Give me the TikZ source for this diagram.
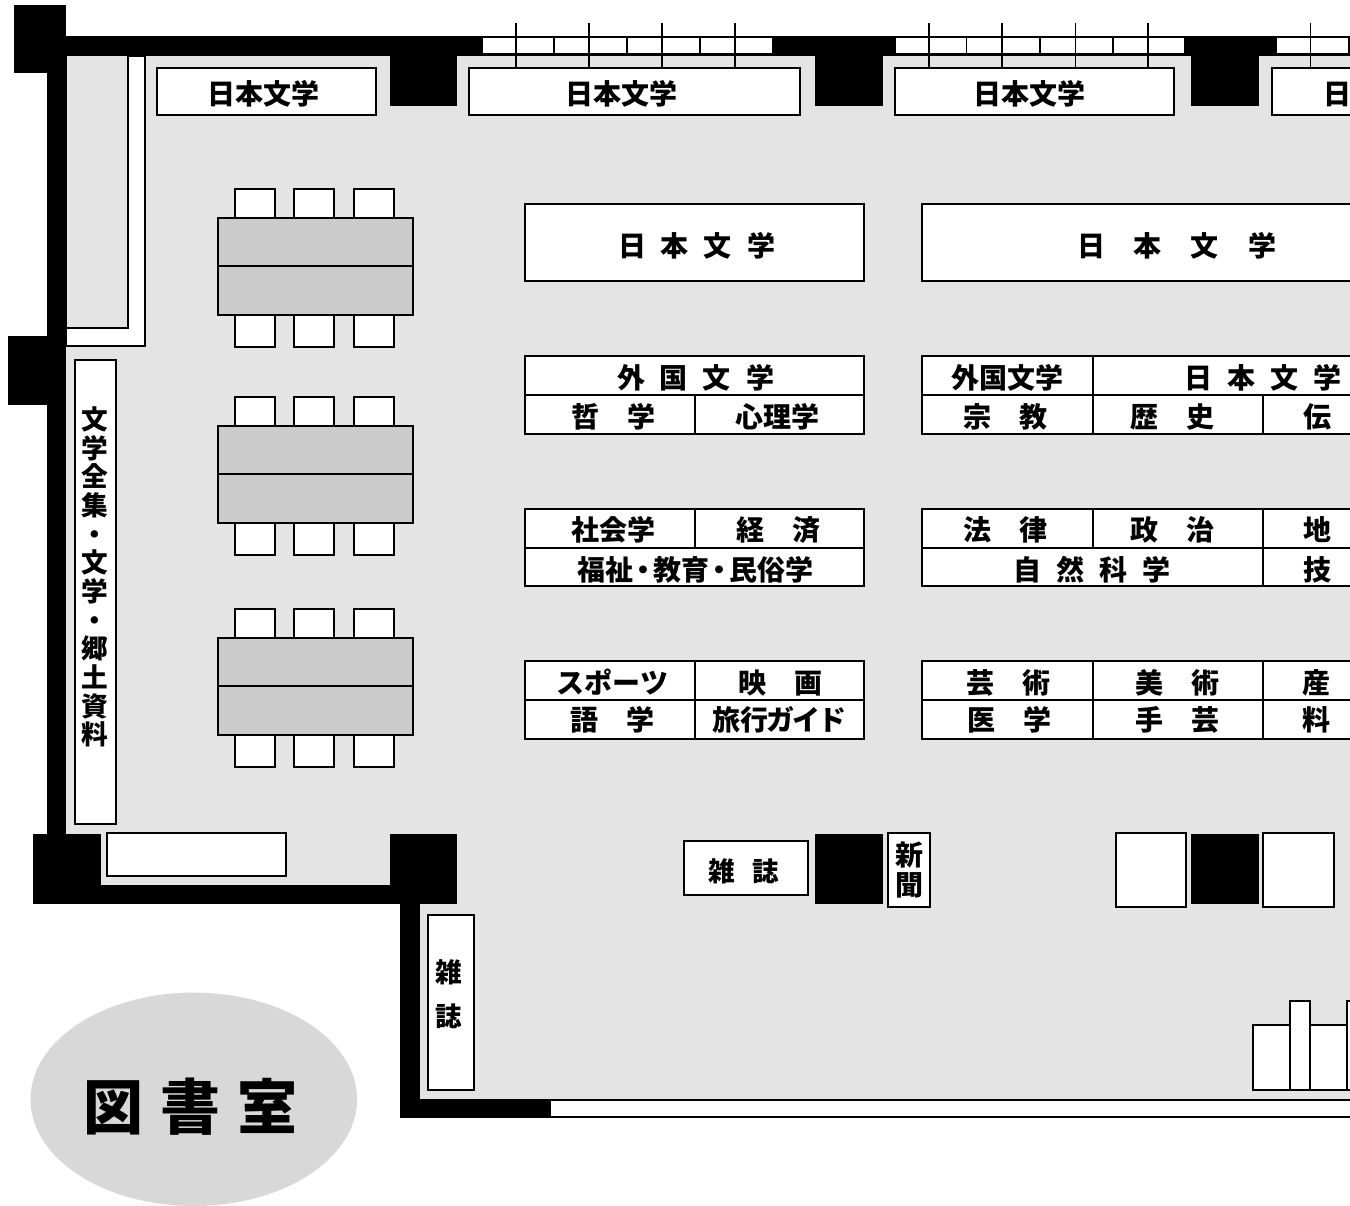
\documentclass[tikz,border=0pt]{standalone}
\usepackage{fontspec}
\setmainfont{Noto Sans CJK JP}
\newfontfamily\heavyjp{Noto Sans CJK JP Black}
\newdimen\pxu \pxu=0.75pt
\newcommand\gp[1]{\hskip #1\pxu\relax}
\definecolor{floorgray}{HTML}{E4E4E4}
\definecolor{tablegray}{HTML}{CBCBCB}
\definecolor{ovalgray}{HTML}{D8D8D8}
\tikzset{
  wall/.style={fill=black,draw=none},
  boxline/.style={draw=black,line width=2\pxu},
  plain/.style={boxline,fill=white},
  tabletop/.style={boxline,fill=tablegray},
  tick/.style={draw=black,line width=1.8\pxu},
  shelfbox/.style={boxline,fill=white,inner sep=0pt,outer sep=0pt},
  lbl/.style={inner sep=0pt,outer sep=0pt,text height=16pt,text depth=0pt,font=\bfseries\fontsize{21}{23}\selectfont},
  stack/.style={inner sep=0pt,outer sep=0pt,align=center},
}
\newcommand\cellbox[5]{%
  \pgfmathsetmacro\cw{(#4-#2)*0.75}%
  \pgfmathsetmacro\ch{(#5-#3)*0.75}%
  \pgfmathsetmacro\cx{(#2+#4)/2}%
  \pgfmathsetmacro\cy{(#3+#5)/2}%
  \node[shelfbox,minimum width=\cw pt,minimum height=\ch pt] (#1) at (\cx,\cy) {};}
% name, x1, y1, x2, y2, text x, text y, text
\newcommand\tcell[8]{\cellbox{#1}{#2}{#3}{#4}{#5}\node[lbl] (#1t) at (#6,#7) {#8};}
\newcommand\windowrow[4]{%
  \path[plain] (#1,37) rectangle (#2,54.5);
  \foreach \d in {#3} \draw[tick] (\d,37) -- (\d,54.5);
  \foreach \t in {#4} \draw[tick] (\t,23) -- (\t,68);}
\newcommand\tablegroup[1]{%
  \begin{scope}[yshift=#1*(-0.75pt)]
    \foreach \x in {234.5,294,354}{
      \path[plain] (\x,188.5) rectangle ++(40,29);
      \path[plain] (\x,315) rectangle ++(40,31.5);
    }
    \path[tabletop] (217.5,217.5) rectangle (413,266);
    \path[tabletop] (217.5,266) rectangle (413,315);
  \end{scope}}
\begin{document}
\begin{tikzpicture}[x=0.75pt,y=-0.75pt]
\useasboundingbox (0,0) rectangle (1350,1206);
\clip (0,0) rectangle (1350,1206);
% floor
\fill[floorgray] (66,56) -- (1350,56) -- (1350,1100) -- (419,1100) -- (419,885) -- (66,885) -- cycle;
% L-shaped white bay
\path[plain] (66,56) -- (145,56) -- (145,346) -- (66,346) -- cycle;
\path[boxline,fill=floorgray] (66,55) -- (128,55) -- (128,328) -- (66,328) -- cycle;
% windows
\fill[black] (66,36) rectangle (1350,56);
\windowrow{482}{773}{554,627,700}{516,589,662,735}
\windowrow{894.5}{1185}{966.5,1040,1113}{929,1002,1075.5,1148}
\windowrow{1276}{1370}{1349}{1310.5}
% walls and pillars
\fill[wall] (14,5) rectangle (66,73);
\fill[wall] (47,73) rectangle (66,834);
\fill[wall] (8,336) rectangle (66,405);
\fill[wall] (389.5,36) rectangle (457,106);
\fill[wall] (815,36) rectangle (883,106);
\fill[wall] (1191,36) rectangle (1258.5,106);
\fill[wall] (33,834) rectangle (100.5,904);
\fill[wall] (100,885) rectangle (457,904);
\fill[wall] (389.5,834) rectangle (457,904);
\fill[wall] (400,904) rectangle (419.5,1118);
\fill[wall] (400,1098.5) rectangle (550,1118);
\path[plain] (550,1099.5) rectangle (1370,1117);
\fill[wall] (815,834) rectangle (883,904);
\fill[wall] (1191,834) rectangle (1258.5,904);
% wall shelves
\tcell{wa}{157}{68}{375.5}{115.5}{263}{94}{日本文学}
\tcell{wb}{469}{68}{800}{115.5}{621.5}{94}{日本文学}
\tcell{wc}{895}{68}{1174}{115.5}{1029.5}{94}{日本文学}
\tcell{wd}{1272}{68}{1396}{115.5}{1337}{94}{日}
% tables
\tablegroup{0}
\tablegroup{208}
\tablegroup{420}
% long shelves
\tcell{la}{525}{204}{864}{281}{696.5}{246}{日\gp{15}本\gp{15}文\gp{15}学}
\tcell{lb}{922}{204}{1400}{281}{1176.5}{246}{日\gp{29}本\gp{29}文\gp{29}学}
% block 1, left
\tcell{a1}{525}{356}{864}{395}{695.5}{378}{外\gp{15}国\gp{15}文\gp{15}学}
\tcell{a2}{525}{395}{694.5}{433.5}{613.6}{416.7}{哲\gp{28}学}
\tcell{a3}{694.5}{395}{864}{433.5}{777}{416.7}{心理学}
% block 2, left
\tcell{b1}{525}{509}{694.5}{548}{613.7}{530}{社会学}
\tcell{b2}{694.5}{509}{864}{548}{778}{530}{経\gp{28}済}
\tcell{b3}{525}{548}{864}{586}{695}{570}{福祉\gp{-4}・\gp{-4}教育\gp{-4}・\gp{-4}民俗学}
% block 3, left
\tcell{c1}{525}{661}{694.5}{700}{612.5}{683}{スポーツ}
\tcell{c2}{694.5}{661}{864}{700}{780.5}{683}{映\gp{28}画}
\tcell{c3}{525}{700}{694.5}{739}{612.3}{720}{語\gp{28}学}
\tcell{c4}{694.5}{700}{864}{739}{779}{720}{旅行\gp{-2}ガ\gp{-2}イ\gp{-2}ド}
% block 1, right
\tcell{d1}{922}{356}{1092.5}{395}{1007.5}{378}{外国文学}
\tcell{d2}{1092.5}{356}{1432}{395}{1263}{378}{日\gp{15}本\gp{15}文\gp{15}学}
\tcell{d3}{922}{395}{1092.5}{433.5}{1005.8}{416.7}{宗\gp{28}教}
\tcell{d4}{1092.5}{395}{1262.5}{433.5}{1172.5}{416.7}{歴\gp{28}史}
\tcell{d5}{1262.5}{395}{1372}{433.5}{1317}{416.7}{伝}
% block 2, right
\tcell{e1}{922}{509}{1092.5}{548}{1005.8}{530}{法\gp{28}律}
\tcell{e2}{1092.5}{509}{1262.5}{548}{1172}{530}{政\gp{28}治}
\tcell{e3}{1262.5}{509}{1372}{548}{1317}{530}{地}
\tcell{e4}{922}{548}{1262.5}{586}{1092}{570}{自\gp{15}然\gp{15}科\gp{15}学}
\tcell{e5}{1262.5}{548}{1372}{586}{1317}{570}{技}
% block 3, right
\tcell{f1}{922}{661}{1092.5}{700}{1008}{683}{芸\gp{28}術}
\tcell{f2}{1092.5}{661}{1262.5}{700}{1177.5}{683}{美\gp{28}術}
\tcell{f3}{1262.5}{661}{1372}{700}{1316}{683}{産}
\tcell{f4}{922}{700}{1092.5}{739}{1009}{720}{医\gp{28}学}
\tcell{f5}{1092.5}{700}{1262.5}{739}{1177.5}{720}{手\gp{28}芸}
\tcell{f6}{1262.5}{700}{1372}{739}{1316}{720}{料}
% left tall shelf
\cellbox{g1}{74.5}{360}{116}{824}
\node[stack,font=\bfseries\fontsize{20}{21.5}\selectfont] (g1t) at (95,577) {文\\学\\全\\集\\・\\文\\学\\・\\郷\\土\\資\\料};
% lower left
\cellbox{h1}{107}{832.5}{285.5}{875.5}
\cellbox{h2}{428}{915}{474}{1090}
\node[stack,font=\bfseries\fontsize{20}{33}\selectfont] (h2t) at (449,994) {雑\\誌};
% magazines, newspaper
\cellbox{i1}{684}{841}{808}{895}
\node[stack,font=\bfseries\fontsize{20}{22}\selectfont] (i1t) at (744,871) {雑\gp{17}誌};
\cellbox{i2}{888}{833}{930}{907}
\node[stack,font=\bfseries\fontsize{21}{22.5}\selectfont] (i2t) at (909,870) {新\\聞};
\cellbox{i3}{1115.5}{832.5}{1186}{907}
\cellbox{i4}{1263}{832.5}{1333.5}{907}
% lower right shelves
\cellbox{j1}{1252.5}{1025}{1290}{1090}
\cellbox{j3}{1310}{1025}{1347}{1090}
\cellbox{j2}{1290}{1001}{1310}{1090}
\cellbox{j4}{1347}{1001}{1370}{1090}
% title
\fill[ovalgray] (193.8,1099.3) ellipse [x radius=163.3,y radius=106.7];
\node[inner sep=0pt,font=\heavyjp\fontsize{45}{48}\selectfont] (title) at (190.5,1107) {図\gp{17}書\gp{17}室};
\end{tikzpicture}
\end{document}
